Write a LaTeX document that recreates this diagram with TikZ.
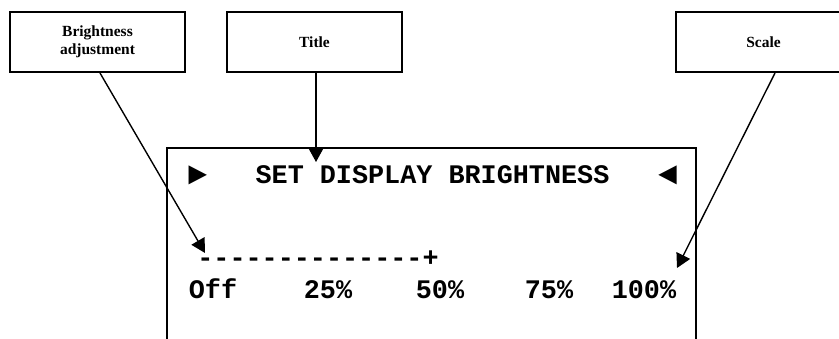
\documentclass[tikz,border=0pt]{standalone}
\usepackage{fontspec}
\usetikzlibrary{arrows.meta}
\newfontfamily\lmono{Liberation Mono}
\newfontfamily\lserif{Liberation Serif}
\tikzset{
  labelbox/.style={draw=black, line width=2pt, minimum width=175pt, minimum height=60pt,
    inner sep=0pt, align=center, font=\lserif\bfseries\fontsize{15.5}{17.5}\selectfont},
  lcd/.style={inner sep=0pt, anchor=base, font=\lmono\bfseries\fontsize{26.8}{30}\selectfont},
  lcdmark/.style={inner sep=0pt, anchor=base, font=\lmono\bfseries\fontsize{32}{34}\selectfont},
  frameline/.style={line width=2pt},
  pointer/.style={line width=1.4pt, -{Triangle[length=14pt,width=15pt]}}
}
\begin{document}
\begin{tikzpicture}[x=1pt,y=-1pt]
\useasboundingbox (0,0) rectangle (839,338);
% label boxes
\node[labelbox] (b1) at (97.5,42) {Brightness\\adjustment};
\node[labelbox] (b2) at (314.5,42) {Title};
\node[labelbox] (b3) at (763.5,42) {Scale};
% display frame
\coordinate (f1) at (167,345);
\coordinate (f2) at (167,148);
\coordinate (f3) at (696,148);
\coordinate (f4) at (696,345);
\draw[frameline] (f1) -- (f2) -- (f3) -- (f4);
% display text
\node[lcdmark] (pl) at (197.5,184) {►};
\node[lcd] (ttl) at (432.5,183) {SET DISPLAY BRIGHTNESS};
\node[lcdmark] (pr) at (668,184) {◄};
\node[lcd] (bar) at (318,266) {--------------+};
\node[lcd] (s0) at (213,298) {Off};
\node[lcd] (s25) at (328,298) {25\%};
\node[lcd] (s50) at (440,298) {50\%};
\node[lcd] (s75) at (549,298) {75\%};
\node[lcd] (s100) at (644,298) {100\%};
% arrow targets
\coordinate (ta) at (316,162);
\coordinate (ba) at (205,253);
\coordinate (sa) at (677,268);
\draw[pointer] ([xshift=1.5pt]b2.south) -- (ta);
\draw[pointer] ([xshift=2.5pt]b1.south) -- (ba);
\draw[pointer] ([xshift=11.5pt]b3.south) -- (sa);
\end{tikzpicture}
\end{document}
